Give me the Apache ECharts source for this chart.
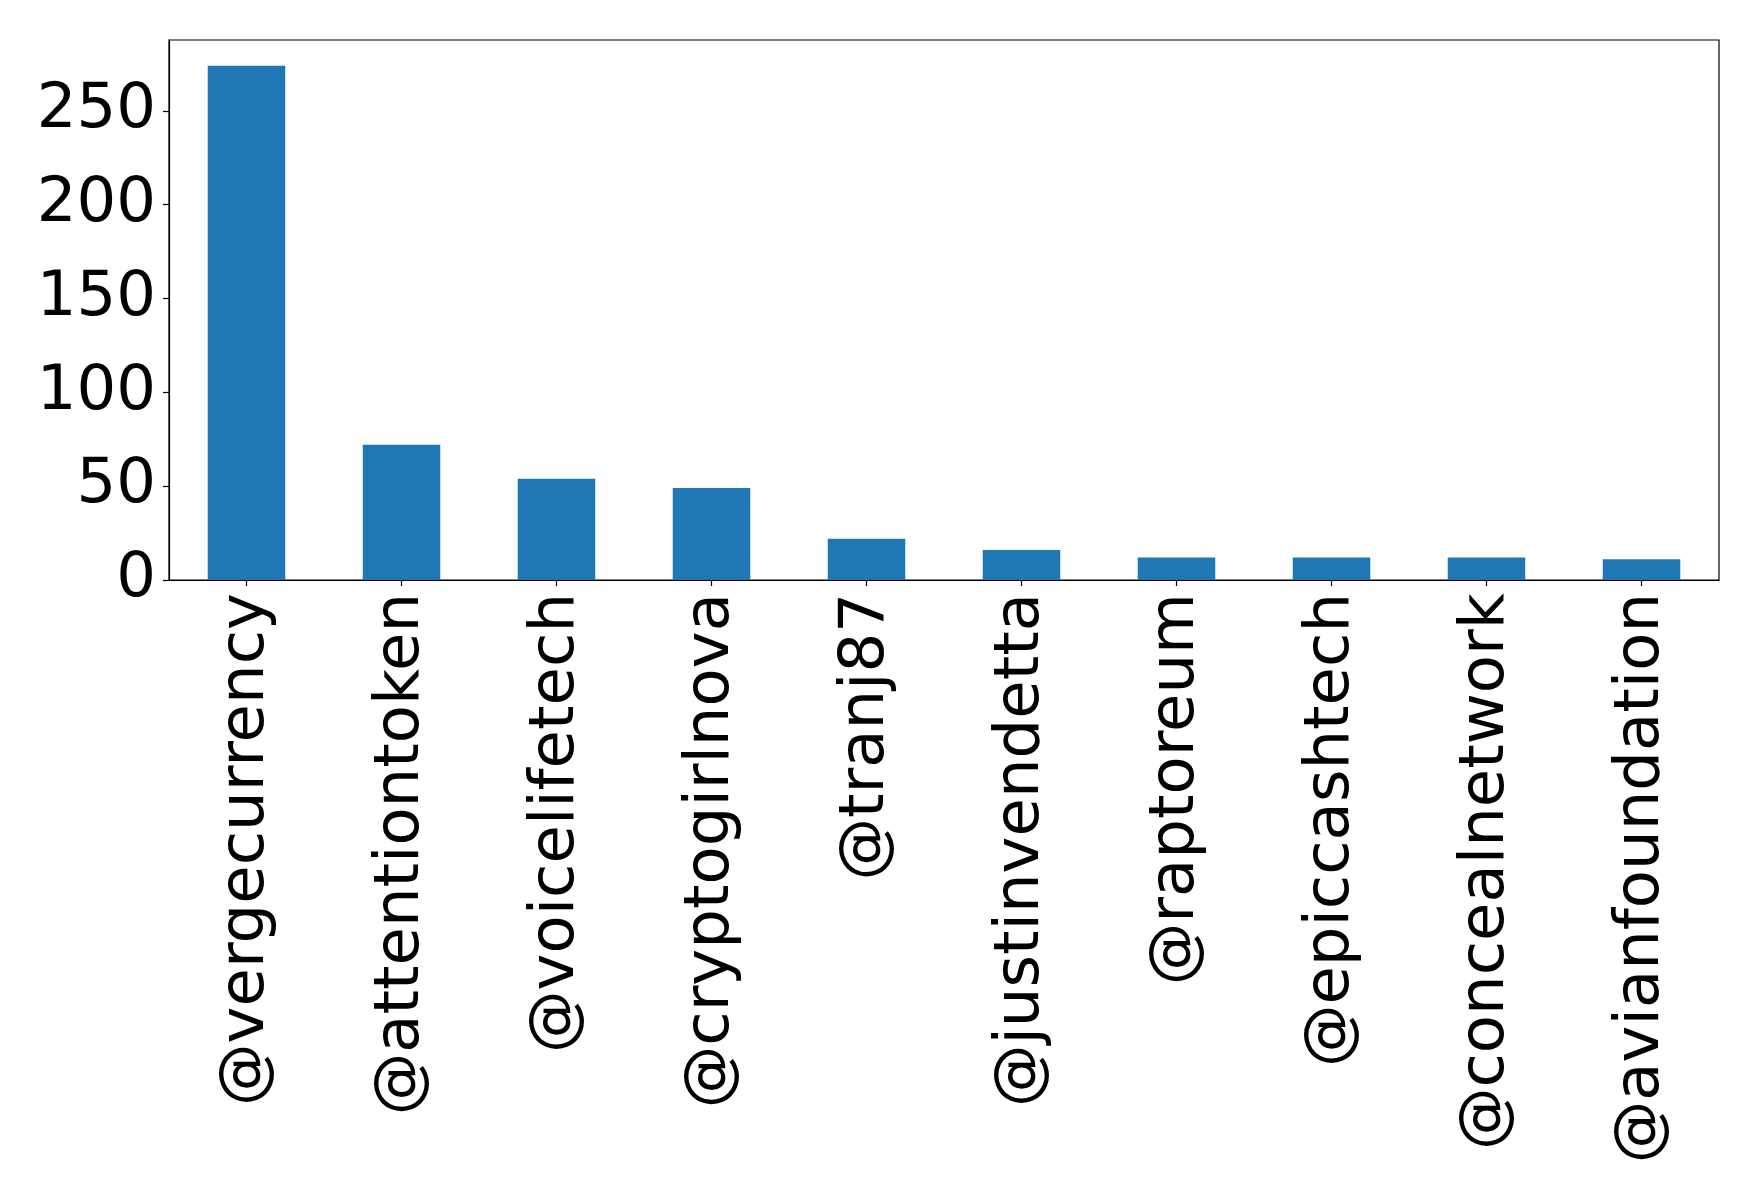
<!DOCTYPE html>
<html>
<head>
<meta charset="utf-8">
<script src="https://cdn.jsdelivr.net/npm/echarts@6/dist/echarts.min.js"></script>
<style>
html,body{margin:0;padding:0;background:#fff;}
#chart{width:1758px;height:1198px;}
</style>
</head>
<body>
<div id="chart"></div>
<script>
const categories = ['@vergecurrency','@attentiontoken','@voicelifetech','@cryptogirlnova','@tranj87','@justinvendetta','@raptoreum','@epiccashtech','@concealnetwork','@avianfoundation'];
const values = [274, 72, 54, 49, 22, 16, 12, 12, 12, 11];
const yTicks = [0, 50, 100, 150, 200, 250];

const chart = echarts.init(document.getElementById('chart'), null, {renderer: 'canvas'});
const font = 'DejaVu Sans';
chart.setOption({
  animation: false,
  backgroundColor: '#ffffff',
  grid: {left: 169, right: 39, top: 40, bottom: 618, show: true, borderColor: '#000', borderWidth: 1.2, backgroundColor: 'transparent'},
  xAxis: {
    type: 'category',
    data: categories,
    axisLine: {show: true, lineStyle: {color: '#000', width: 1.2}},
    axisTick: {show: true, alignWithLabel: true, length: 6, lineStyle: {color: '#000', width: 1.2}},
    axisLabel: {rotate: 90, fontSize: 62.5, fontFamily: font, color: '#000', margin: 13, interval: 0},
    splitLine: {show: false}
  },
  yAxis: {
    type: 'value',
    min: 0,
    max: 287.7,
    interval: 50,
    axisLine: {show: true, lineStyle: {color: '#000', width: 1.2}},
    axisTick: {show: true, length: 6, lineStyle: {color: '#000', width: 1.2}, customValues: yTicks},
    axisLabel: {fontSize: 62.5, fontFamily: font, color: '#000', margin: 13, customValues: yTicks},
    splitLine: {show: false}
  },
  series: [{
    type: 'bar',
    data: values,
    barWidth: '50%',
    itemStyle: {color: '#1f77b4'}
  }]
});
</script>
</body>
</html>
